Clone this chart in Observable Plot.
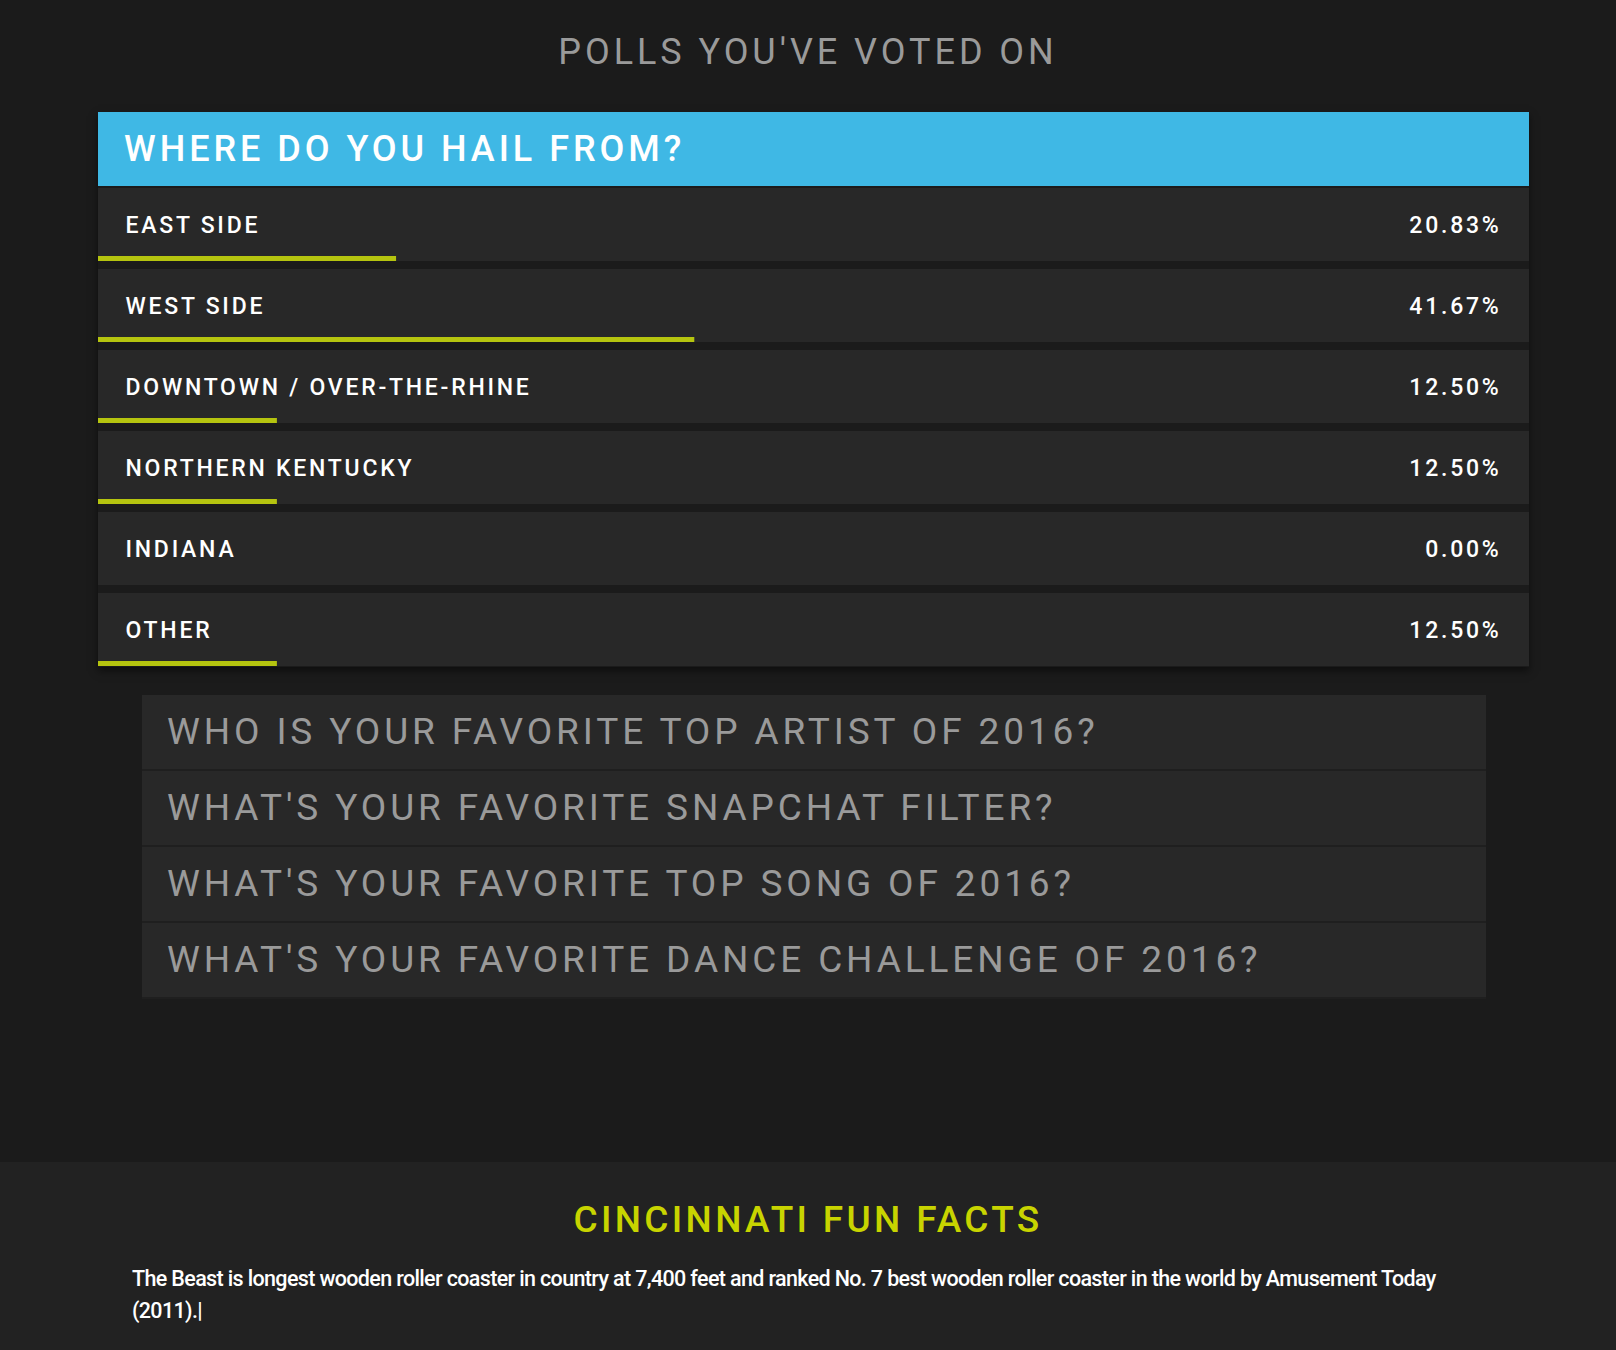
<!DOCTYPE html>
<html>
<head>
<meta charset="utf-8">
<script src="https://cdn.jsdelivr.net/npm/d3@7"></script>
<script src="https://cdn.jsdelivr.net/npm/@observablehq/plot@0.6"></script>
<style>
  body { margin: 0; background: #1b1b1b; font-family: Roboto, sans-serif; width: 1616px; height: 1350px; overflow: hidden; }
  h1 { margin: 0; padding-top: 31px; height: 81px; text-align: center; color: #9a9a9a; font-weight: 400; font-size: 36px; letter-spacing: 0.11em; }
  .card { margin-left: 98px; width: 1431px; box-shadow: 0 4px 8px rgba(0,0,0,0.5); }
  .head { background: #3fb8e5; height: 74px; line-height: 74px; color: #fff; font-size: 36px; letter-spacing: 0.11em; padding-left: 26px; font-weight: 500; }
  #chart svg { display: block; background: #1b1b1b; }
  #chart text { letter-spacing: 0.12em; }
  .others { margin: 28px 0 0 142px; width: 1344px; }
  .others div { background: #282828; height: 74px; line-height: 74px; border-bottom: 2px solid #1f1f1f; color: #9a9a9a; font-size: 37px; letter-spacing: 0.105em; padding-left: 25px; }
  .facts { position: absolute; top: 1162px; left: 0; width: 1616px; height: 188px; background: #222; }
  .facts h2 { margin: 0; padding-top: 36px; text-align: center; color: #c8d400; font-weight: 500; font-size: 37px; letter-spacing: 0.09em; }
  .facts p { margin: 22px 0 0 132px; width: 1340px; color: #fff; font-size: 21.5px; font-weight: 500; line-height: 32px; letter-spacing: -0.03em; }
</style>
</head>
<body>
<h1>POLLS YOU'VE VOTED ON</h1>
<div class="card">
  <div class="head">WHERE DO YOU HAIL FROM?</div>
  <div id="chart"></div>
</div>
<div class="others" id="others"></div>
<div class="facts">
  <h2>CINCINNATI FUN FACTS</h2>
  <p>The Beast is longest wooden roller coaster in country at 7,400 feet and ranked No. 7 best wooden roller coaster in the world by Amusement Today (2011).|</p>
</div>
<script>
const answers = ["EAST SIDE", "WEST SIDE", "DOWNTOWN / OVER-THE-RHINE", "NORTHERN KENTUCKY", "INDIANA", "OTHER"]
const percents = [20.83, 41.67, 12.50, 12.50, 0.00, 12.50]
const otherPolls = [
  "WHO IS YOUR FAVORITE TOP ARTIST OF 2016?",
  "WHAT'S YOUR FAVORITE SNAPCHAT FILTER?",
  "WHAT'S YOUR FAVORITE TOP SONG OF 2016?",
  "WHAT'S YOUR FAVORITE DANCE CHALLENGE OF 2016?"
]

const data = answers.map((a, i) => ({answer: a, pct: percents[i]}))
const rowH = 73

let chart = Plot.plot({
  width: 1431,
  height: 481,
  margin: 0,
  x: {domain: [0, 100], axis: null},
  y: {domain: answers, axis: null, paddingInner: 0.104, paddingOuter: 0},
  style: {fontFamily: "Roboto, sans-serif"},
  marks: [
    Plot.barX(data, {y: "answer", x1: 0, x2: 100, fill: "#282828"}),
    Plot.barX(data, {y: "answer", x1: 0, x2: "pct", fill: "#b5c40f", insetTop: rowH - 5}),
    Plot.text(data, {y: "answer", x: 0, text: "answer", textAnchor: "start", dx: 27, dy: 1, fill: "#fff", fontSize: 23, fontWeight: 500}),
    Plot.text(data, {y: "answer", x: 100, text: d => d.pct.toFixed(2) + "%", textAnchor: "end", dx: -28, dy: 1, fill: "#fff", fontSize: 23, fontWeight: 500})
  ]
})
d3.select('#chart').append(() => chart)

d3.select('#others').selectAll('div').data(otherPolls).join('div').text(d => d)
</script>
</body>
</html>
